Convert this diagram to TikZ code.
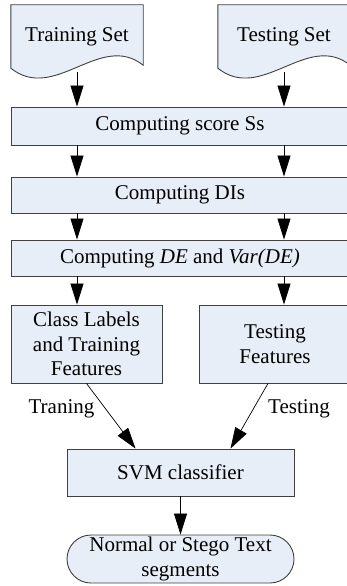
\documentclass[tikz,border=0pt]{standalone}
\usepackage{fontspec}
\setmainfont{Liberation Serif}
\usetikzlibrary{arrows.meta,positioning,shapes.misc,backgrounds}

\definecolor{boxfill}{RGB}{232,238,247}
\definecolor{boxline}{RGB}{64,64,64}

\tikzset{
  proc/.style={draw=boxline, fill=boxfill, line width=0.9pt, align=center, inner sep=0pt},
  wide/.style={proc, minimum width=338pt},
  doc/.style={align=center, minimum width=132pt, minimum height=63pt, inner sep=0pt},
  flow/.style={-{Triangle[length=21pt,width=13pt]}, line width=0.7pt},
}

% document outline with wavy bottom, drawn round a named node
\newcommand{\docwave}[1]{%
  \draw[draw=boxline, fill=boxfill, line width=0.9pt]
    (#1.south west) -- (#1.north west) -- (#1.north east) -- ([yshift=3pt]#1.south east)
    .. controls ([xshift=-43pt,yshift=37pt]#1.south east) and ([xshift=44pt,yshift=-35pt]#1.south west)
    .. (#1.south west) -- cycle;}

\begin{document}
\begin{tikzpicture}[x=1pt,y=-1pt,on grid,font=\fontsize{21}{24.5}\selectfont]
  \useasboundingbox (0,0) rectangle (347,586);
  \node[doc] (train) at (77,36.5) {Training Set};
  \node[doc] (test) at (284,36.5) {Testing Set};
  \node[wide, minimum height=38pt] (score) at (180,126) {Computing score Ss};
  \node[wide, minimum height=36pt] (dis) [below=69pt of score] {Computing DIs};
  \node[wide, minimum height=36pt] (de) [below=63pt of dis] {Computing \textit{DE} and \textit{Var(DE)}};
  \node[proc, minimum width=151pt, minimum height=78pt] (cls) at (86.5,344) {Class Labels\\and Training\\Features};
  \node[proc, minimum width=152pt, minimum height=78pt] (tfeat) at (275,344) {Testing\\Features};
  \node[proc, minimum width=227pt, minimum height=47pt] (svm) at (180.5,472.5) {SVM classifier};
  \node[proc, rounded rectangle, minimum width=227pt, minimum height=48pt] (out) [below=86.5pt of svm] {Normal or Stego Text\\segments};
  \node (trlab) at (61.5,409) {Traning};
  \node (telab) at (299,409) {Testing};

  \begin{scope}[on background layer]
    \docwave{train}
    \docwave{test}
  \end{scope}

  \draw[flow] ([yshift=-4pt]train.south) -- (train.south |- score.north);
  \draw[flow] ([yshift=-4pt]test.south) -- (test.south |- score.north);
  \draw[flow] (train.south |- score.south) -- (train.south |- dis.north);
  \draw[flow] (test.south |- score.south) -- (test.south |- dis.north);
  \draw[flow] (train.south |- dis.south) -- (train.south |- de.north);
  \draw[flow] (test.south |- dis.south) -- (test.south |- de.north);
  \draw[flow] (train.south |- de.south) -- (train.south |- cls.north);
  \draw[flow] (test.south |- de.south) -- (test.south |- tfeat.north);
  \draw[flow] (cls.south) -- ([xshift=-45pt]svm.north);
  \draw[flow] ([xshift=-7pt]tfeat.south) -- ([xshift=50pt]svm.north);
  \draw[flow] (svm.south) -- (out.north);
\end{tikzpicture}
\end{document}
